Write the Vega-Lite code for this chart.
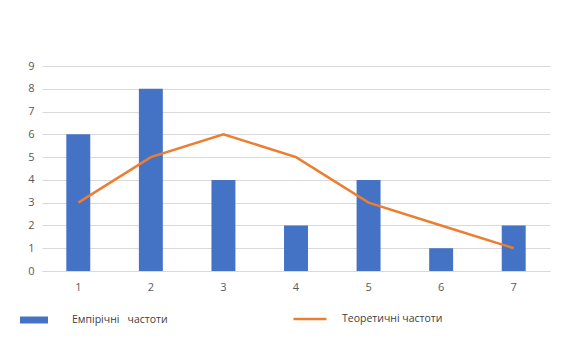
{
  "$schema": "https://vega.github.io/schema/vega-lite/v6.json",
  "autosize": "none",
  "width": 508,
  "height": 205,
  "padding": {"left": 42, "top": 66, "right": 12, "bottom": 72},
  "background": "white",
  "config": {
    "view": {"stroke": null},
    "font": "Open Sans",
    "axis": {
      "labelFont": "Open Sans",
      "labelFontSize": 11,
      "labelColor": "#595959",
      "gridColor": "#d9d9d9",
      "gridWidth": 1,
      "ticks": false,
      "title": null
    },
    "legend": {
      "labelFont": "Open Sans",
      "labelFontSize": 10.5,
      "labelColor": "#404040",
      "padding": 0,
      "title": null
    }
  },
  "data": {
    "values": [
      {"x": "1", "series": "emp", "value": 6},
      {"x": "2", "series": "emp", "value": 8},
      {"x": "3", "series": "emp", "value": 4},
      {"x": "4", "series": "emp", "value": 2},
      {"x": "5", "series": "emp", "value": 4},
      {"x": "6", "series": "emp", "value": 1},
      {"x": "7", "series": "emp", "value": 2},
      {"x": "1", "series": "theor", "value": 3},
      {"x": "2", "series": "theor", "value": 5},
      {"x": "3", "series": "theor", "value": 6},
      {"x": "4", "series": "theor", "value": 5},
      {"x": "5", "series": "theor", "value": 3},
      {"x": "6", "series": "theor", "value": 2},
      {"x": "7", "series": "theor", "value": 1}
    ]
  },
  "encoding": {
    "x": {
      "field": "x",
      "type": "ordinal",
      "scale": {"paddingInner": 0.67, "paddingOuter": 0.335},
      "axis": {"labelAngle": 0, "labelPadding": 10, "domainColor": "#d9d9d9", "grid": false}
    },
    "y": {
      "field": "value",
      "type": "quantitative",
      "scale": {"domain": [0, 9], "nice": false},
      "axis": {"values": [0, 1, 2, 3, 4, 5, 6, 7, 8, 9], "labelOverlap": false, "domain": false, "labelPadding": 8}
    }
  },
  "layer": [
    {
      "transform": [{"filter": "datum.series === 'emp'"}],
      "mark": {"type": "bar"},
      "encoding": {
        "fill": {
          "datum": "Емпірічні\u00a0\u00a0\u00a0частоти",
          "scale": {"range": ["#4472C4"]},
          "legend": {
            "orient": "none",
            "legendX": -22,
            "legendY": 240,
            "symbolType": "M-1,-0.25H1V0.25H-1Z",
            "symbolSize": 784,
            "symbolStrokeWidth": 0,
            "labelOffset": 24
          }
        }
      }
    },
    {
      "transform": [{"filter": "datum.series === 'theor'"}],
      "mark": {"type": "line", "strokeWidth": 2.5},
      "encoding": {
        "stroke": {
          "datum": "Теоретичні частоти",
          "scale": {"range": ["#ED7D31"]},
          "legend": {
            "orient": "none",
            "legendX": 250,
            "legendY": 235,
            "symbolType": "stroke",
            "symbolSize": 1089,
            "symbolStrokeWidth": 2.5,
            "labelOffset": 14
          }
        }
      }
    }
  ]
}
